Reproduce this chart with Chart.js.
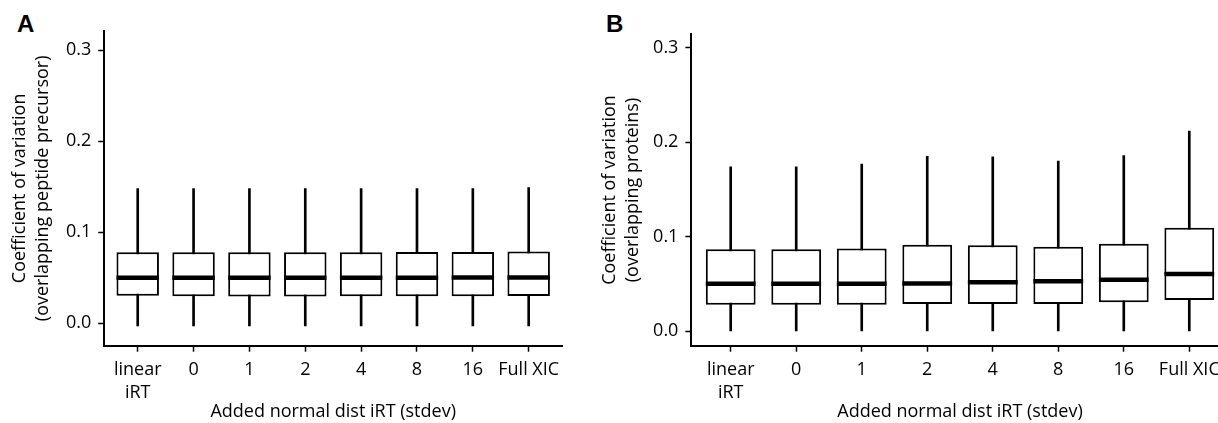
<!DOCTYPE html>
<html>
<head>
<meta charset="utf-8">
<script src="https://cdn.jsdelivr.net/npm/chart.js@4.4.1/dist/chart.umd.min.js"></script>
<style>
  html, body { margin: 0; padding: 0; background: #fff; width: 1218px; height: 423px; overflow: hidden; position: relative; }
  .panel { position: absolute; top: 0; }
  .lbl { position: absolute; font-family: "Liberation Sans", Arial, sans-serif; font-weight: bold; font-size: 24px; line-height: 24px; color: #000; }
</style>
</head>
<body>
<div class="lbl" style="left:17px; top:12px;">A</div>
<div class="lbl" style="left:606px; top:12px;">B</div>
<div class="panel" style="left:0px; width:590px; height:423px;"><canvas id="cA" width="590" height="423"></canvas></div>
<div class="panel" style="left:590px; width:667px; height:423px;"><canvas id="cB" width="667" height="423"></canvas></div>
<script>
// ---- data ----
const categories = ['linear\niRT', '0', '1', '2', '4', '8', '16', 'Full XIC'];
const yTicks = [0.0, 0.1, 0.2, 0.3];
const xTitle = 'Added normal dist iRT (stdev)';
const titleA = ['Coefficient of variation', '(overlapping peptide precursor)'];
const titleB = ['Coefficient of variation', '(overlapping proteins)'];

// Panel A: overlapping peptide precursor
const A_min = [-0.003, -0.003, -0.003, -0.003, -0.003, -0.003, -0.003, -0.003];
const A_q1  = [0.0303, 0.0297, 0.0293, 0.0295, 0.0297, 0.0297, 0.0298, 0.0300];
const A_med = [0.0501, 0.0500, 0.0500, 0.0500, 0.0500, 0.0500, 0.0502, 0.0502];
const A_q3  = [0.0780, 0.0780, 0.0780, 0.0780, 0.0780, 0.0782, 0.0782, 0.0788];
const A_max = [0.148, 0.148, 0.148, 0.148, 0.148, 0.148, 0.148, 0.149];

// Panel B: overlapping proteins
const B_min = [0.0, 0.0, 0.0, 0.0, 0.0, 0.0, 0.0, 0.0];
const B_q1  = [0.0281, 0.0281, 0.0281, 0.0289, 0.0290, 0.0290, 0.0307, 0.0331];
const B_med = [0.0503, 0.0503, 0.0503, 0.0507, 0.0520, 0.0530, 0.0545, 0.0606];
const B_q3  = [0.0867, 0.0867, 0.0877, 0.0915, 0.0910, 0.0894, 0.0926, 0.1095];
const B_max = [0.174, 0.174, 0.1768, 0.185, 0.1846, 0.180, 0.186, 0.2117];

// ---- chart builder ----
const FONT = '"Open Sans", "Noto Sans", sans-serif';
function buildBox(canvasId, mins, q1s, meds, q3s, maxs, yTitle, cfg) {
  const pos = (i) => i + 1;
  const whisk = categories.map((c, i) => ({ x: pos(i), y: [mins[i], maxs[i]] }));
  const boxes = categories.map((c, i) => ({ x: pos(i), y: [q1s[i], q3s[i]] }));
  const medians = categories.map((c, i) => ({ x: pos(i), y: meds[i] }));
  const halfBox = 0.38;
  return new Chart(document.getElementById(canvasId), {
    type: 'bar',
    data: {
      datasets: [
        {
          type: 'line', data: medians, showLine: false, order: 1,
          pointStyle: 'line', borderColor: '#000', backgroundColor: '#000',
          pointBorderWidth: 4.5, pointHoverBorderWidth: 4.5,
          pointRadius: (c) => { const s = c.chart.scales.x; return s.getPixelForValue(1 + halfBox) - s.getPixelForValue(1); },
          pointHoverRadius: (c) => { const s = c.chart.scales.x; return s.getPixelForValue(1 + halfBox) - s.getPixelForValue(1); }
        },
        {
          data: boxes, order: 2, grouped: false,
          backgroundColor: '#fff', borderColor: '#000', borderWidth: 2, borderSkipped: false,
          barPercentage: halfBox * 2, categoryPercentage: 1
        },
        {
          data: whisk, order: 3, grouped: false,
          backgroundColor: '#000', borderWidth: 0, barThickness: 2
        }
      ]
    },
    options: {
      responsive: false, animation: false, devicePixelRatio: 1, events: [],
      layout: { padding: { left: 0, top: cfg.top, right: cfg.right, bottom: 0 } },
      plugins: { legend: { display: false }, tooltip: { enabled: false } },
      scales: {
        x: {
          type: 'linear', min: 0.4, max: 8.6, offset: false,
          afterBuildTicks: (s) => { s.ticks = categories.map((c, i) => ({ value: pos(i) })); },
          afterFit: (s) => { s.height = 423 - cfg.bottom; },
          border: { display: true, color: '#000', width: 2 },
          grid: { display: true, drawOnChartArea: false, drawTicks: true, tickLength: 6, tickWidth: 1.5, tickColor: '#000', offset: false },
          ticks: {
            autoSkip: false, maxRotation: 0, minRotation: 0, padding: 7, color: '#000',
            font: { family: FONT, size: 18, lineHeight: '23px' },
            callback: (v) => { const l = categories[Math.round(v) - 1]; return l ? l.split('\n') : ''; }
          },
          title: { display: true, text: xTitle, color: '#000', font: { family: FONT, size: 18, lineHeight: '22px' }, padding: { top: 0, bottom: 0 } }
        },
        y: {
          type: 'linear', min: cfg.ymin, max: cfg.ymax,
          afterBuildTicks: (s) => { s.ticks = yTicks.map(v => ({ value: v })); },
          afterFit: (s) => { s.width = cfg.left; },
          border: { display: true, color: '#000', width: 2 },
          grid: { display: true, drawOnChartArea: false, drawTicks: true, tickLength: 6, tickWidth: 1.5, tickColor: '#000' },
          ticks: { padding: 7, color: '#000', font: { family: FONT, size: 18 }, callback: (v) => Number(v).toFixed(1) },
          title: { display: true, text: yTitle, color: '#000', font: { family: FONT, size: 18, lineHeight: '23px' }, padding: { top: 8.5, bottom: 0 } }
        }
      }
    }
  });
}

buildBox('cA', A_min, A_q1, A_med, A_q3, A_max, titleA,
  { left: 104.2, right: 590 - 562.2, top: 31, bottom: 345.7, ymin: -0.0246, ymax: 0.3209 });
buildBox('cB', B_min, B_q1, B_med, B_q3, B_max, titleB,
  { left: 101.4, right: 667 - 1228.6 + 590 - 0, top: 34.3, bottom: 345.7, ymin: -0.0152, ymax: 0.3142 });
</script>
</body>
</html>
